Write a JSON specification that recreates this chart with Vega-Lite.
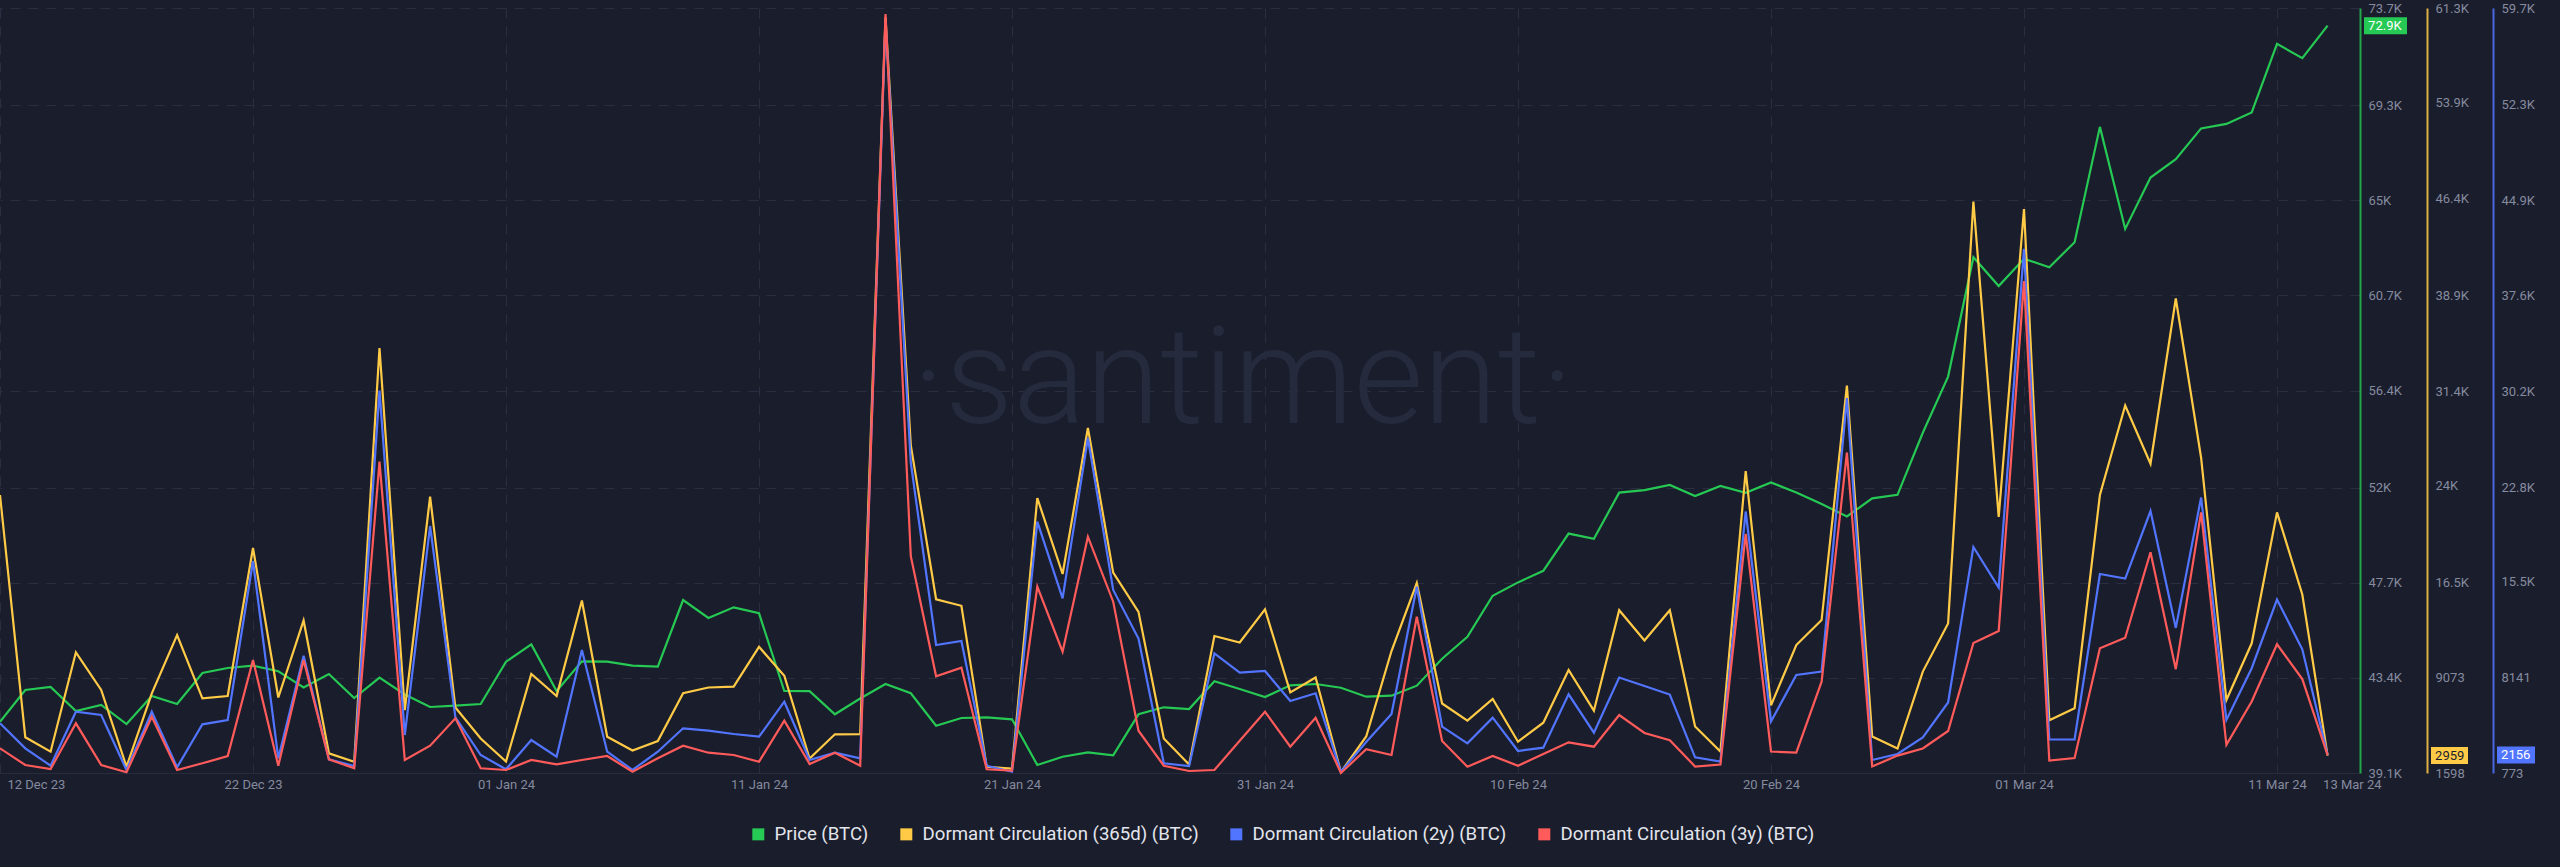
{
  "$schema": "https://vega.github.io/schema/vega-lite/v6.json",
  "width": 2360,
  "height": 765,
  "autosize": {"type": "none"},
  "padding": {"left": 0, "top": 8, "right": 200, "bottom": 94},
  "background": "#1a1d2c",
  "config": {
    "view": {"stroke": null},
    "font": "Roboto",
    "axis": {"labelFont": "Roboto", "labelFontSize": 13, "labelColor": "#858b9f", "ticks": false, "grid": false}
  },
  "datasets": {
    "btc": [
      {"date": "2023-12-12T00:00", "price": 41420, "dc365": 23293, "dc2y": 4602, "dc3y": 2676},
      {"date": "2023-12-13T00:00", "price": 42854, "dc365": 4384, "dc2y": 2676, "dc3y": 1389},
      {"date": "2023-12-14T00:00", "price": 42990, "dc365": 3260, "dc2y": 1335, "dc3y": 1081},
      {"date": "2023-12-15T00:00", "price": 41904, "dc365": 11017, "dc2y": 5496, "dc3y": 4602},
      {"date": "2023-12-16T00:00", "price": 42176, "dc365": 8075, "dc2y": 5242, "dc3y": 1389},
      {"date": "2023-12-17T00:00", "price": 41316, "dc365": 2090, "dc2y": 1004, "dc3y": 827},
      {"date": "2023-12-18T00:00", "price": 42583, "dc365": 7818, "dc2y": 5496, "dc3y": 5111},
      {"date": "2023-12-19T00:00", "price": 42221, "dc365": 12368, "dc2y": 1212, "dc3y": 1004},
      {"date": "2023-12-20T00:00", "price": 43623, "dc365": 7428, "dc2y": 4525, "dc3y": 1520},
      {"date": "2023-12-21T00:00", "price": 43849, "dc365": 7607, "dc2y": 4857, "dc3y": 2083},
      {"date": "2023-12-22T00:00", "price": 43953, "dc365": 19157, "dc2y": 17108, "dc3y": 9480},
      {"date": "2023-12-23T00:00", "price": 43700, "dc365": 7490, "dc2y": 1906, "dc3y": 1335},
      {"date": "2023-12-24T00:00", "price": 42967, "dc365": 13499, "dc2y": 9811, "dc3y": 9480},
      {"date": "2023-12-25T00:00", "price": 43578, "dc365": 3135, "dc2y": 1829, "dc3y": 1829},
      {"date": "2023-12-26T00:00", "price": 42492, "dc365": 2480, "dc2y": 1312, "dc3y": 1135},
      {"date": "2023-12-27T00:00", "price": 43410, "dc365": 34765, "dc2y": 30245, "dc3y": 24759},
      {"date": "2023-12-28T00:00", "price": 42650, "dc365": 6499, "dc2y": 3701, "dc3y": 1775},
      {"date": "2023-12-29T00:00", "price": 42085, "dc365": 23176, "dc2y": 19804, "dc3y": 2876},
      {"date": "2023-12-30T00:00", "price": 42148, "dc365": 6710, "dc2y": 5065, "dc3y": 4988},
      {"date": "2023-12-31T00:00", "price": 42221, "dc365": 4290, "dc2y": 2160, "dc3y": 1135},
      {"date": "2024-01-01T00:00", "price": 44134, "dc365": 2495, "dc2y": 1058, "dc3y": 1004},
      {"date": "2024-01-02T00:00", "price": 44916, "dc365": 9324, "dc2y": 3316, "dc3y": 1775},
      {"date": "2024-01-03T00:00", "price": 42809, "dc365": 7607, "dc2y": 2029, "dc3y": 1443},
      {"date": "2024-01-04T00:00", "price": 44152, "dc365": 15060, "dc2y": 10250, "dc3y": 1775},
      {"date": "2024-01-05T00:00", "price": 44134, "dc365": 4423, "dc2y": 2414, "dc3y": 2083},
      {"date": "2024-01-06T00:00", "price": 43953, "dc365": 3354, "dc2y": 1004, "dc3y": 873},
      {"date": "2024-01-07T00:00", "price": 43908, "dc365": 4095, "dc2y": 2414, "dc3y": 1906},
      {"date": "2024-01-08T00:00", "price": 46925, "dc365": 7826, "dc2y": 4217, "dc3y": 2876},
      {"date": "2024-01-09T00:00", "price": 46110, "dc365": 8270, "dc2y": 4032, "dc3y": 2337},
      {"date": "2024-01-10T00:00", "price": 46594, "dc365": 8333, "dc2y": 3778, "dc3y": 2160},
      {"date": "2024-01-11T00:00", "price": 46323, "dc365": 11447, "dc2y": 3570, "dc3y": 1644},
      {"date": "2024-01-12T00:00", "price": 42809, "dc365": 9191, "dc2y": 6267, "dc3y": 4803},
      {"date": "2024-01-13T00:00", "price": 42800, "dc365": 2730, "dc2y": 1775, "dc3y": 1466},
      {"date": "2024-01-14T00:00", "price": 41755, "dc365": 4618, "dc2y": 2337, "dc3y": 2337},
      {"date": "2024-01-15T00:00", "price": 42470, "dc365": 4626, "dc2y": 1906, "dc3y": 1335},
      {"date": "2024-01-16T00:00", "price": 43125, "dc365": 60565, "dc2y": 58638, "dc3y": 59254},
      {"date": "2024-01-17T00:00", "price": 42705, "dc365": 27172, "dc2y": 24682, "dc3y": 17477},
      {"date": "2024-01-18T00:00", "price": 41239, "dc365": 15154, "dc2y": 10635, "dc3y": 8224},
      {"date": "2024-01-19T00:00", "price": 41588, "dc365": 14646, "dc2y": 10944, "dc3y": 8886},
      {"date": "2024-01-20T00:00", "price": 41619, "dc365": 2082, "dc2y": 1335, "dc3y": 1058},
      {"date": "2024-01-21T00:00", "price": 41529, "dc365": 1949, "dc2y": 873, "dc3y": 950},
      {"date": "2024-01-22T00:00", "price": 39462, "dc365": 23059, "dc2y": 20136, "dc3y": 15127},
      {"date": "2024-01-23T00:00", "price": 39837, "dc365": 17128, "dc2y": 14234, "dc3y": 10119},
      {"date": "2024-01-24T00:00", "price": 40036, "dc365": 28522, "dc2y": 26585, "dc3y": 18980},
      {"date": "2024-01-25T00:00", "price": 39901, "dc365": 17237, "dc2y": 14873, "dc3y": 13972},
      {"date": "2024-01-26T00:00", "price": 41755, "dc365": 14178, "dc2y": 11136, "dc3y": 4032},
      {"date": "2024-01-27T00:00", "price": 42072, "dc365": 4290, "dc2y": 1520, "dc3y": 1335},
      {"date": "2024-01-28T00:00", "price": 41995, "dc365": 2261, "dc2y": 1312, "dc3y": 927},
      {"date": "2024-01-29T00:00", "price": 43248, "dc365": 12289, "dc2y": 9996, "dc3y": 1004},
      {"date": "2024-01-30T00:00", "price": 42899, "dc365": 11782, "dc2y": 8501, "dc3y": 3262},
      {"date": "2024-01-31T00:00", "price": 42537, "dc365": 14365, "dc2y": 8632, "dc3y": 5496},
      {"date": "2024-02-01T00:00", "price": 43067, "dc365": 7888, "dc2y": 6321, "dc3y": 2799},
      {"date": "2024-02-02T00:00", "price": 43125, "dc365": 9051, "dc2y": 6914, "dc3y": 5034},
      {"date": "2024-02-03T00:00", "price": 42958, "dc365": 1676, "dc2y": 873, "dc3y": 773},
      {"date": "2024-02-04T00:00", "price": 42551, "dc365": 4446, "dc2y": 3162, "dc3y": 2599},
      {"date": "2024-02-05T00:00", "price": 42596, "dc365": 11119, "dc2y": 5319, "dc3y": 2160},
      {"date": "2024-02-06T00:00", "price": 43049, "dc365": 16426, "dc2y": 15128, "dc3y": 12808},
      {"date": "2024-02-07T00:00", "price": 44270, "dc365": 7022, "dc2y": 4340, "dc3y": 3239},
      {"date": "2024-02-08T00:00", "price": 45260, "dc365": 5680, "dc2y": 3061, "dc3y": 1258},
      {"date": "2024-02-09T00:00", "price": 47115, "dc365": 7373, "dc2y": 5034, "dc3y": 2083},
      {"date": "2024-02-10T00:00", "price": 47721, "dc365": 4041, "dc2y": 2468, "dc3y": 1335},
      {"date": "2024-02-11T00:00", "price": 48245, "dc365": 5523, "dc2y": 2722, "dc3y": 2237},
      {"date": "2024-02-12T00:00", "price": 49928, "dc365": 9636, "dc2y": 6837, "dc3y": 3138},
      {"date": "2024-02-13T00:00", "price": 49693, "dc365": 6460, "dc2y": 3878, "dc3y": 2799},
      {"date": "2024-02-14T00:00", "price": 51782, "dc365": 14303, "dc2y": 8131, "dc3y": 5242},
      {"date": "2024-02-15T00:00", "price": 51891, "dc365": 11938, "dc2y": 7476, "dc3y": 3855},
      {"date": "2024-02-16T00:00", "price": 52126, "dc365": 14303, "dc2y": 6821, "dc3y": 3300},
      {"date": "2024-02-17T00:00", "price": 51628, "dc365": 5227, "dc2y": 1983, "dc3y": 1274},
      {"date": "2024-02-18T00:00", "price": 52081, "dc365": 3276, "dc2y": 1659, "dc3y": 1428},
      {"date": "2024-02-19T00:00", "price": 51773, "dc365": 25166, "dc2y": 20922, "dc3y": 19188},
      {"date": "2024-02-20T00:00", "price": 52239, "dc365": 6881, "dc2y": 4741, "dc3y": 2430},
      {"date": "2024-02-21T00:00", "price": 51791, "dc365": 11587, "dc2y": 8324, "dc3y": 2337},
      {"date": "2024-02-22T00:00", "price": 51267, "dc365": 13538, "dc2y": 8586, "dc3y": 7808},
      {"date": "2024-02-23T00:00", "price": 50701, "dc365": 31831, "dc2y": 29667, "dc3y": 25452},
      {"date": "2024-02-24T00:00", "price": 51520, "dc365": 4446, "dc2y": 1775, "dc3y": 1274},
      {"date": "2024-02-25T00:00", "price": 51683, "dc365": 3510, "dc2y": 2237, "dc3y": 2114},
      {"date": "2024-02-26T00:00", "price": 54487, "dc365": 9511, "dc2y": 3508, "dc3y": 2661},
      {"date": "2024-02-27T00:00", "price": 57029, "dc365": 13273, "dc2y": 6205, "dc3y": 4009},
      {"date": "2024-02-28T00:00", "price": 62429, "dc365": 46198, "dc2y": 18186, "dc3y": 10790},
      {"date": "2024-02-29T00:00", "price": 61127, "dc365": 21576, "dc2y": 15066, "dc3y": 11714},
      {"date": "2024-03-01T00:00", "price": 62361, "dc365": 45613, "dc2y": 41163, "dc3y": 38682},
      {"date": "2024-03-02T00:00", "price": 61977, "dc365": 5718, "dc2y": 3354, "dc3y": 1728},
      {"date": "2024-03-03T00:00", "price": 63103, "dc365": 6655, "dc2y": 3354, "dc3y": 1929},
      {"date": "2024-03-04T00:00", "price": 68323, "dc365": 23293, "dc2y": 16106, "dc3y": 10381},
      {"date": "2024-03-05T00:00", "price": 63709, "dc365": 30278, "dc2y": 15752, "dc3y": 11190},
      {"date": "2024-03-06T00:00", "price": 66029, "dc365": 25736, "dc2y": 20960, "dc3y": 17786},
      {"date": "2024-03-07T00:00", "price": 66862, "dc365": 38628, "dc2y": 11953, "dc3y": 8771},
      {"date": "2024-03-08T00:00", "price": 68255, "dc365": 26204, "dc2y": 22000, "dc3y": 20852},
      {"date": "2024-03-09T00:00", "price": 68458, "dc365": 7295, "dc2y": 4864, "dc3y": 2946},
      {"date": "2024-03-10T00:00", "price": 68978, "dc365": 11720, "dc2y": 8848, "dc3y": 6282},
      {"date": "2024-03-11T00:00", "price": 72081, "dc365": 21935, "dc2y": 14141, "dc3y": 10689},
      {"date": "2024-03-12T00:00", "price": 71430, "dc365": 15528, "dc2y": 10304, "dc3y": 8008},
      {"date": "2024-03-13T00:00", "price": 72900, "dc365": 2959, "dc2y": 2156, "dc3y": 2150}
    ]
  },
  "data": {"name": "btc"},
  "encoding": {
    "x": {
      "field": "date",
      "type": "temporal",
      "scale": {"domain": [{"year": 2023, "month": 12, "date": 12}, {"year": 2024, "month": 3, "date": 14, "hours": 6, "minutes": 44}]},
      "axis": {
        "title": null,
        "format": "%d %b %y",
        "values": [
          {"year": 2023, "month": 12, "date": 12},
          {"year": 2023, "month": 12, "date": 22},
          {"year": 2024, "month": 1, "date": 1},
          {"year": 2024, "month": 1, "date": 11},
          {"year": 2024, "month": 1, "date": 21},
          {"year": 2024, "month": 1, "date": 31},
          {"year": 2024, "month": 2, "date": 10},
          {"year": 2024, "month": 2, "date": 20},
          {"year": 2024, "month": 3, "date": 1},
          {"year": 2024, "month": 3, "date": 11},
          {"year": 2024, "month": 3, "date": 13}
        ],
        "labelFlush": false,
        "labelOverlap": false,
        "labelPadding": 5,
        "labelAlign": {"condition": {"test": "time(datum.value) < time(datetime(2023, 11, 13)) || time(datum.value) > time(datetime(2024, 2, 12))", "value": "left"}, "value": "center"},
        "labelOffset": {"condition": [{"test": "time(datum.value) < time(datetime(2023, 11, 13))", "value": 7}, {"test": "time(datum.value) > time(datetime(2024, 2, 12))", "value": -5}], "value": 0},
        "grid": true,
        "gridColor": "#2a2e40",
        "gridDash": [10, 8],
        "gridWidth": 1,
        "gridOpacity": {"condition": {"test": "time(datum.value) > time(datetime(2024, 2, 12))", "value": 0}, "value": 1},
        "domainColor": "#272b3b",
        "domainWidth": 1
      }
    }
  },
  "layer": [
    {
      "layer": [
        {
          "transform": [{"filter": "time(datum.date) == time(datetime(2024, 2, 13))"}],
          "mark": {"type": "text", "text": "·santiment·", "font": "Roboto", "fontWeight": 300, "fontSize": 135, "color": "#252a3d", "align": "center", "baseline": "alphabetic"},
          "encoding": {
            "x": {"datum": {"expr": "time(datetime(2024, 0, 30, 3))"}, "type": "temporal"},
            "y": {"datum": 54930, "type": "quantitative"}
          }
        },
        {
          "mark": {"type": "line", "strokeWidth": 2.2, "interpolate": "linear"},
          "encoding": {
            "y": {
              "field": "price",
              "type": "quantitative",
              "scale": {"domain": [39100, 73700], "nice": false, "zero": false},
              "axis": {
                "orient": "right",
                "offset": 0,
                "title": null,
                "values": [39100, 43400, 47700, 52000, 56400, 60700, 65000, 69300, 73700],
                "labelExpr": "datum.value >= 10000 ? format(datum.value / 1000, '.1~f') + 'K' : format(datum.value, 'd')",
                "labelPadding": 8,
                "grid": true,
                "gridColor": "#2a2e40",
                "gridDash": [10, 8],
                "gridWidth": 1,
                "domainColor": "#26c953",
                "domainOpacity": 0.8,
                "domainWidth": 2
              }
            },
            "color": {
              "datum": "Price (BTC)",
              "type": "nominal",
              "scale": {
                "domain": ["Price (BTC)", "Dormant Circulation (365d) (BTC)", "Dormant Circulation (2y) (BTC)", "Dormant Circulation (3y) (BTC)"],
                "range": ["#26c953", "#ffcb47", "#5275ff", "#ff5b5b"]
              },
              "legend": {
                "orient": "none",
                "legendX": 749,
                "legendY": 817,
                "direction": "horizontal",
                "title": null,
                "symbolType": "square",
                "symbolSize": 144,
                "symbolStrokeWidth": 0,
                "labelFont": "Roboto",
                "labelFontSize": 18.6,
                "labelColor": "#e3e5ec",
                "labelOffset": 7,
                "labelLimit": 500,
                "columnPadding": 28,
                "padding": 0,
                "encode": {"symbols": {"update": {"fill": {"scale": "color", "field": "value"}, "opacity": {"value": 1}}}}
              }
            }
          }
        },
        {
          "transform": [{"filter": "time(datum.date) == time(datetime(2024, 2, 13))"}],
          "mark": {"type": "point", "shape": "M3.64,-0.85H7.94V0.85H3.64Z", "size": 400, "filled": true, "opacity": 1, "color": "#26c953", "strokeWidth": 0},
          "encoding": {"y": {"field": "price", "type": "quantitative"}}
        },
        {
          "transform": [{"filter": "time(datum.date) == time(datetime(2024, 2, 13))"}],
          "mark": {"type": "text", "align": "left", "baseline": "middle", "dx": 40.5, "fontSize": 13, "font": "Roboto", "color": "#ffffff", "text": {"expr": "format(datum.price / 1000, '.1f') + 'K'"}},
          "encoding": {"y": {"field": "price", "type": "quantitative"}}
        }
      ]
    },
    {
      "layer": [
        {
          "mark": {"type": "line", "strokeWidth": 2.2},
          "encoding": {
            "y": {
              "field": "dc365",
              "type": "quantitative",
              "scale": {"domain": [1598, 61300], "nice": false, "zero": false},
              "axis": {
                "orient": "right",
                "offset": 67,
                "title": null,
                "values": [1598, 9073, 16500, 24000, 31400, 38900, 46400, 53900, 61300],
                "labelExpr": "datum.value >= 10000 ? format(datum.value / 1000, '.1~f') + 'K' : format(datum.value, 'd')",
                "labelPadding": 8,
                "domainColor": "#ffcb47",
                "domainOpacity": 0.85,
                "domainWidth": 2
              }
            },
            "color": {"datum": "Dormant Circulation (365d) (BTC)", "type": "nominal"}
          }
        },
        {
          "transform": [{"filter": "time(datum.date) == time(datetime(2024, 2, 13))"}],
          "mark": {"type": "point", "shape": "M10.34,-0.85H14.04V0.85H10.34Z", "size": 400, "filled": true, "opacity": 1, "color": "#ffcb47", "strokeWidth": 0},
          "encoding": {"y": {"field": "dc365", "type": "quantitative"}}
        },
        {
          "transform": [{"filter": "time(datum.date) == time(datetime(2024, 2, 13))"}],
          "mark": {"type": "text", "align": "left", "baseline": "middle", "dx": 107.5, "fontSize": 13, "font": "Roboto", "color": "#1a1d2c"},
          "encoding": {"y": {"field": "dc365", "type": "quantitative"}, "text": {"field": "dc365", "type": "quantitative", "format": "d"}}
        }
      ]
    },
    {
      "layer": [
        {
          "mark": {"type": "line", "strokeWidth": 2.2},
          "encoding": {
            "y": {
              "field": "dc2y",
              "type": "quantitative",
              "scale": {"domain": [773, 59717], "nice": false, "zero": false},
              "axis": {
                "orient": "right",
                "offset": 133,
                "title": null,
                "values": [773, 8141, 15500, 22800, 30200, 37600, 44900, 52300, 59700],
                "labelExpr": "datum.value >= 10000 ? format(datum.value / 1000, '.1~f') + 'K' : format(datum.value, 'd')",
                "labelPadding": 8,
                "domainColor": "#5275ff",
                "domainOpacity": 0.85,
                "domainWidth": 2
              }
            },
            "color": {"datum": "Dormant Circulation (2y) (BTC)", "type": "nominal"}
          }
        },
        {
          "transform": [{"filter": "time(datum.date) == time(datetime(2024, 2, 13))"}],
          "mark": {"type": "point", "shape": "M16.94,-0.85H20.74V0.85H16.94Z", "size": 400, "filled": true, "opacity": 1, "color": "#5275ff", "strokeWidth": 0},
          "encoding": {"y": {"field": "dc2y", "type": "quantitative"}}
        },
        {
          "transform": [{"filter": "time(datum.date) == time(datetime(2024, 2, 13))"}],
          "mark": {"type": "text", "align": "left", "baseline": "middle", "dx": 173.5, "fontSize": 13, "font": "Roboto", "color": "#ffffff"},
          "encoding": {"y": {"field": "dc2y", "type": "quantitative"}, "text": {"field": "dc2y", "type": "quantitative", "format": "d"}}
        }
      ]
    },
    {
      "mark": {"type": "line", "strokeWidth": 2.2},
      "encoding": {
        "y": {"field": "dc3y", "type": "quantitative", "scale": {"domain": [773, 59717], "nice": false, "zero": false}, "axis": null},
        "color": {"datum": "Dormant Circulation (3y) (BTC)", "type": "nominal"}
      }
    }
  ],
  "resolve": {"scale": {"y": "independent"}, "axis": {"y": "independent"}}
}
